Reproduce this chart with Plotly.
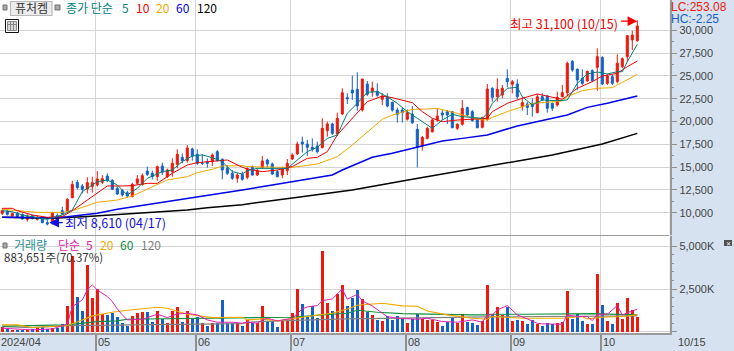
import plotly.graph_objects as go

W, H = 734, 351
NOTE_FONT = "Noto Sans CJK KR"
AXIS_FONT = "Liberation Sans"

# ---- daily candles (won) ----
opens = [9930,10190,9640,9930,9820,9270,9680,9270,9460,8910,9020,9680,10220,10220,11650,13330,12930,12600,12860,13040,
         13330,14020,13550,12670,12420,12200,11760,13220,13110,14570,14320,13950,15120,13950,14500,15300,16070,15710,16990,16400,
         15410,15600,15600,16690,15850,14870,14320,13770,14210,13880,15050,14130,14970,15780,15340,14500,14130,14610,15890,16440,
         17750,17530,17170,17310,17130,18990,19730,18630,20820,22610,23450,23530,21260,24110,23270,23310,22430,22720,22100,21260,
         21260,20240,20820,19140,17310,18150,18880,20160,20930,21080,21080,19250,19690,21520,21080,20240,19360,20240,23640,22720,
         22900,24730,24080,24110,21630,21920,21990,20970,22720,22800,21990,21810,22720,23160,26600,25720,24730,24440,25570,25940,
         27030,24180,24920,24370,26010,27110,28940,28860]
highs = [10480,10300,10000,10080,9930,9820,9750,9640,9530,9200,10110,9930,10660,11580,13510,13590,13150,13880,13950,14570,
         14130,14320,13660,12860,12600,12420,13290,14130,14320,15050,14610,15160,15490,14830,15960,16950,16510,17420,17130,16950,
         16400,15960,16510,16880,15960,15230,14680,14320,14500,14970,15190,14860,16220,15920,15490,14680,15050,15890,16510,17790,
         18340,17970,18150,17790,20350,19980,19870,20970,23640,23090,25030,25390,24660,24440,24370,24180,23090,23090,22170,21520,
         21550,21330,21700,19730,18410,19430,20350,21440,21260,21260,21150,19800,22360,21630,21260,20350,20530,24110,23750,24730,
         24000,25720,24550,24620,22720,22170,22540,23020,23090,22900,22070,23270,24000,26560,26740,25830,25720,25570,25720,28020,
         27150,25210,25100,27360,27030,29480,29960,31100]
lows = [9750,9680,9570,9490,9240,9020,9270,9130,8840,8610,8690,9200,9750,10110,11580,12560,12120,12120,12200,12860,
        13150,13370,12490,11940,11760,11690,11690,13040,12970,14020,13660,13510,14130,13810,13950,14870,15410,15490,15710,15230,
        15230,14940,15120,15600,13660,14130,13590,13290,13510,13660,14060,14020,14860,14970,14130,13880,13770,14130,15780,16330,
        16580,16220,16690,16510,17060,18340,18520,18410,20710,21920,22360,21190,21080,22800,22720,22720,21810,21550,21080,19870,
        19870,20090,19730,14940,16800,18040,18780,19980,20160,19730,19250,19070,19540,20530,19980,19250,19250,20090,22170,22170,
        22540,23750,23090,22430,21190,20710,20530,20900,22280,20970,21150,21630,22650,22900,25460,23450,24000,24370,24370,23380,
        24000,24000,24000,24180,25830,26560,27840,28750]
closes = [10220,9820,9930,9570,9310,9570,9350,9490,8910,8760,10000,9350,9860,11470,13110,12750,12560,13290,13290,13700,
          13730,13510,12560,12050,11940,11830,13110,13700,14060,14210,13950,15050,14430,14680,15410,16400,15710,17100,16220,15410,
          15410,15410,16330,15710,14680,14320,13770,14130,13660,14830,14130,14610,15670,15340,14240,13950,14790,15410,16330,17530,
          17530,17170,16950,16690,19250,19730,18700,20350,23160,22500,23130,21700,24660,22980,23670,22870,22800,21700,21260,20790,
          20970,20970,19870,17170,18260,19250,20160,20600,20710,20710,19320,19690,21440,20710,20090,19320,20420,23560,22650,23530,
          23640,24370,24370,22720,22070,21550,21630,22720,22360,21440,21440,22650,23160,26380,25650,24550,24180,25500,24480,27110,
          24110,24990,24180,26380,26890,29410,29480,30470]

# ---- price moving averages ----
ma5_i = [0,2,4,7,9,12,14,16,19,21,23,25,27,29,32,34,36,38,40,42,44,46,48,49,51,54,57,59,61,63,65,67,69,71,73,75,77,79,81,83,86,88,90,92,94,96,97,98,99,101,103,104,106,108,111,113,115,117,119,121,123,124,125,126,127]
ma5_v = [10220,10110,9750,9490,9270,9750,10300,12310,13400,13590,13040,11940,12670,13770,14500,14680,15600,16220,16330,16030,15600,14500,14240,14610,14860,14860,14860,15780,16690,17170,18150,18520,20900,21990,23200,23270,22720,21990,21080,20350,19250,20160,20790,20530,20460,20350,20890,21990,22540,23640,23750,22720,21810,22360,22280,22360,24180,25210,25430,25210,25460,25460,26560,27470,28460]
ma10_i = [0,2,3,6,9,12,14,17,21,24,26,29,31,34,37,39,42,45,48,49,52,55,58,61,63,65,67,70,73,76,78,82,84,86,88,91,95,97,98,101,104,107,111,112,115,118,120,123,125,127]
ma10_v = [10480,10480,10220,9750,9490,9570,10220,11390,12930,12930,12970,13220,13220,14320,15230,15490,15600,15780,14980,14790,14500,14680,15050,15960,16070,16690,18520,20350,22170,22790,22610,22060,21080,20350,19980,20160,20240,20350,21080,21990,22540,23020,22540,22430,23640,24370,24990,25280,26010,26630]
ma20_i = [0,4,7,12,14,19,23,26,30,33,37,39,42,44,48,49,56,58,63,67,70,73,76,78,82,85,87,91,95,97,98,101,104,106,112,113,116,119,122,124,127]
ma20_v = [10370,10190,10040,10040,10220,11140,11390,11830,12860,13590,13950,14390,14760,15120,15160,15050,14970,14970,15340,16140,17420,18880,20240,20710,21330,21370,21440,20890,20240,20160,20450,21080,21630,21990,22250,22720,23380,23640,23710,24260,25170]
ma60_i = [0,10,13,19,23,31,39,43,48,54,61,66,68,74,78,83,88,92,97,103,109,113,117,121,127]
ma60_v = [9490,9455,9565,9930,10370,11030,11760,12050,12490,13040,13660,14130,14680,16070,16510,17170,17860,18150,18520,19510,20240,20710,21550,21990,22800]
ma120_i = [0,10,17,31,37,41,48,58,70,82,97,110,120,127]
ma120_v = [9490,9380,9570,10040,10300,10550,10880,11610,12490,13660,15050,16330,17540,18700]

# ---- volume (thousand shares) ----
volume = [292,195,117,117,97,78,156,233,311,175,214,214,467,1517,4454,2042,1225,3909,1984,2509,
          1031,992,1128,875,506,370,934,1109,1167,1167,584,1225,759,506,1245,1459,564,1225,797,895,
          545,350,545,545,1867,545,545,545,350,700,506,506,1517,642,642,311,642,759,1109,2529,
          1634,895,1517,797,4726,1692,1225,2217,2742,1517,1964,2451,1945,1186,1011,720,661,934,720,934,
          797,545,759,1031,759,720,700,603,370,564,836,506,1031,564,545,428,622,2742,1031,1459,
          992,1459,642,700,642,467,681,467,370,506,447,525,584,2392,759,1031,642,467,467,3384,
          1575,642,467,1692,759,1984,1284,883.651]

vma5_i = [0,3,6,10,12,13,14,16,17,18,19,21,22,23,24,25,28,29,31,33,35,37,39,41,43,46,48,49,51,52,53,55,58,60,61,63,64,66,68,69,71,72,74,76,77,79,83,85,88,91,94,96,97,98,99,101,103,105,107,108,112,113,115,117,118,119,121,123,124,126,127]
vma5_v = [214,175,117,175,370,447,1478,1867,2451,2742,2451,2062,1770,1342,992,700,739,836,1031,836,1050,1089,992,700,564,564,506,564,506,700,797,642,797,1342,1459,1537,1828,1926,2509,1906,2198,1809,1517,1089,895,797,739,797,603,564,700,564,992,992,1284,1537,992,759,506,467,447,992,895,895,661,1031,1031,1537,992,1225,1323]
vma20_i = [0,3,6,9,13,16,18,22,25,31,33,37,40,42,48,49,52,55,61,66,69,71,76,80,83,85,89,94,97,98,104,112,116,117,120,124,127]
vma20_v = [408,408,253,311,370,700,934,1148,1264,1439,1381,1031,895,836,856,700,759,642,895,1089,1342,1556,1673,1517,1498,1225,992,797,739,895,797,797,895,759,856,895,992]
vma60_i = [0,13,19,23,25,48,58,64,69,71,75,80,85,89,94,97,98,105,118,127]
vma60_v = [331,408,603,642,739,797,856,992,1089,1264,1148,1070,1031,1031,992,992,1031,1031,1070,992]
vma120_i = [0,6,13,30,48,49,55,69,77,97,127]
vma120_v = [311,253,370,408,486,564,642,759,797,875,934]

# ---- axes ----
price_ticks = [10000,12500,15000,17500,20000,22500,25000,27500,30000]
price_labels = ["10,000","12,500","15,000","17,500","20,000","22,500","25,000","27,500","30,000"]
volume_ticks = [0,2500,5000]
volume_labels = ["","2,500K","5,000K"]
month_ticks = [18.64,38.64,57.64,80.64,101.64,119.64]
month_labels = ["05","06","07","08","09","10"]

RED, BLUE = "#ec1a0c", "#1560c8"
n = len(closes)
xs = list(range(n))
bar_colors = [RED if closes[i] >= opens[i] else BLUE for i in xs]

fig = go.Figure()
fig.add_trace(go.Candlestick(x=xs, open=opens, high=highs, low=lows, close=closes, xaxis="x", yaxis="y",
    whiskerwidth=0, hoverinfo="skip",
    increasing=dict(line=dict(color=RED, width=1), fillcolor=RED),
    decreasing=dict(line=dict(color=BLUE, width=1), fillcolor=BLUE)))
for ix, vals, col, w in [(ma120_i, ma120_v, "#000000", 1.5), (ma60_i, ma60_v, "#0000e6", 1.5),
                         (ma20_i, ma20_v, "#f0a800", 1), (ma10_i, ma10_v, "#f00000", 1), (ma5_i, ma5_v, "#008078", 1)]:
    fig.add_trace(go.Scatter(x=ix, y=vals, mode="lines", xaxis="x", yaxis="y", line=dict(color=col, width=w), hoverinfo="skip"))

fig.add_trace(go.Bar(x=xs, y=volume, marker=dict(color=bar_colors, line=dict(width=0)), width=0.66, xaxis="x", yaxis="y2", hoverinfo="skip"))
for ix, vals, col, w in [(vma120_i, vma120_v, "#808080", 1.2), (vma60_i, vma60_v, "#109040", 1.2),
                         (vma20_i, vma20_v, "#f0a800", 1.1), (vma5_i, vma5_v, "#e020b0", 1)]:
    fig.add_trace(go.Scatter(x=ix, y=vals, mode="lines", xaxis="x", yaxis="y2", line=dict(color=col, width=w), hoverinfo="skip"))

def px(v): return v / W
def py(v): return 1 - v / H

def label(text, x, y, color, size=12, font=NOTE_FONT, anchor="left"):
    return dict(text=text, x=px(x), y=py(y), xref="paper", yref="paper", showarrow=False, xanchor=anchor, yanchor="middle",
                font=dict(family=font, size=size, color=color), borderpad=0, borderwidth=0)

notes = [
    label("퓨처켐", 31, 8, "#333333", 12, anchor="center"),
    label("종가 단순", 66, 8, "#008078"), label("5", 122, 8, "#008078"), label("10", 136, 8, "#f00000"),
    label("20", 156, 8, "#f0a800"), label("60", 176, 8, "#0000e6"), label("120", 197, 8, "#000000"),
    label("거래량", 14, 244, "#2a9090"), label("단순", 58, 244, "#e020b0"), label("5", 86, 244, "#e020b0"),
    label("20", 100, 244, "#f0a800"), label("60", 120, 244, "#109040"), label("120", 141, 244, "#808080"),
    label("883,651주(70.37%)", 4, 257, "#333333", 11.5),
    label("최고 31,100 (10/15)", 510, 23, "#f00000", 12.5),
    label("최저 8,610 (04/17)", 65, 222, "#1010e0", 12.5),
    label("LC:253.08", 671, 7, "#ec1a0c", 12, AXIS_FONT),
    label("HC:-2.25", 671, 19, "#1560c8", 12, AXIS_FONT),
    label("2024/04", 1, 342, "#444444", 11, AXIS_FONT),
    label("10/15", 678, 342, "#444444", 11, AXIS_FONT),
    label("✕", 728, 243, "#ffffff", 6, "DejaVu Sans", "center"),
    dict(x=127, y=31000, xref="x", yref="y", text="", showarrow=True, ax=-18, ay=0, axref="pixel", ayref="pixel",
         arrowhead=2, arrowsize=1.5, arrowwidth=1.3, arrowcolor="#f00000"),
    dict(x=9.4, y=8900, xref="x", yref="y", text="", showarrow=True, ax=15, ay=0, axref="pixel", ayref="pixel",
         arrowhead=2, arrowsize=1.5, arrowwidth=1.3, arrowcolor="#1010e0"),
]
for m, t in zip(month_ticks, month_labels):
    notes.append(dict(text=t, x=m, y=py(342), xref="x", yref="paper", xshift=1, showarrow=False, xanchor="left", yanchor="middle",
                      font=dict(family=AXIS_FONT, size=11, color="#444444"), borderpad=0))

def rect(x0, y0, x1, y1, fill, line="rgba(0,0,0,0)", lw=0):
    return dict(type="rect", xref="paper", yref="paper", x0=px(x0), x1=px(x1), y0=py(y0), y1=py(y1),
                fillcolor=fill, line=dict(color=line, width=lw), layer="above")
def seg(x0, y0, x1, y1, color="#9a9a9a", lw=1):
    return dict(type="line", xref="paper", yref="paper", x0=px(x0), x1=px(x1), y0=py(y0), y1=py(y1), line=dict(color=color, width=lw), layer="above")

shapes = [
    rect(3, 5, 7, 10, "#a8a8a8", "#707070", 1), rect(55, 5, 60, 10, "#a8a8a8", "#707070", 1),
    rect(10.5, 1.5, 52, 15.5, "#ececec", "#b8b8b8", 1.2),
    rect(5.5, 19.5, 18.5, 32.5, "#ffffff", "#111111", 1), rect(7.5, 21.5, 16.5, 30.5, "#d8d8d8", "#888888", 1),
    seg(10.5, 21.5, 10.5, 30.5, "#888888"), seg(13.5, 21.5, 13.5, 30.5, "#888888"), seg(7.5, 24.5, 16.5, 24.5, "#888888"),
    rect(3, 243, 7, 248, "#a8a8a8", "#707070", 1),
    rect(724, 240, 732, 246, "#505050"),
    seg(0, 235.5, 669, 235.5),
]

axis_font = dict(family=AXIS_FONT, size=11, color="#444444")
fig.update_layout(
    width=W, height=H, margin=dict(l=0, r=0, t=0, b=0), autosize=False,
    paper_bgcolor="#d6e2f0", plot_bgcolor="#ffffff", showlegend=False, boxgap=0.42, bargap=0,
    font=dict(family=AXIS_FONT),
    xaxis=dict(domain=[0, 669.5 / W], range=[-0.46, 133.44], anchor="y2", tickmode="array", tickvals=month_ticks,
               ticktext=["" for _ in month_ticks], showgrid=True, gridcolor="#d4d4d4", gridwidth=1,
               ticks="outside", ticklen=18, tickcolor="#909090", tickwidth=1.5, showline=True, linecolor="#9a9a9a", linewidth=1.5,
               rangeslider=dict(visible=False), zeroline=False),
    yaxis=dict(domain=[py(235), 1], range=[7554, 33322], side="right", anchor="x", tickmode="array", tickvals=price_ticks,
               ticktext=price_labels, tickfont=axis_font, showgrid=True, gridcolor="#d4d4d4", gridwidth=1,
               ticks="outside", ticklen=6, tickcolor="#909090", showline=True, linecolor="#9a9a9a", linewidth=1.5, zeroline=False,
               minor=dict(tickmode="array", tickvals=[v + 1250 for v in price_ticks], ticks="outside", ticklen=3, tickcolor="#909090", showgrid=False)),
    yaxis2=dict(domain=[py(333), py(236)], range=[-65, 5602], side="right", anchor="x", tickmode="array", tickvals=volume_ticks,
                ticktext=volume_labels, tickfont=axis_font, showgrid=True, gridcolor="#d4d4d4", gridwidth=1,
                ticks="outside", ticklen=6, tickcolor="#909090", showline=True, linecolor="#9a9a9a", linewidth=1.5, zeroline=False,
                minor=dict(tickmode="array", tickvals=[500,1000,1500,2000,3000,3500,4000,4500], ticks="outside", ticklen=3, tickcolor="#909090", showgrid=False)),
    shapes=shapes, annotations=notes,
)
fig.write_html("out.html", config={"displayModeBar": False}, post_script="document.body.style.margin='0';")
